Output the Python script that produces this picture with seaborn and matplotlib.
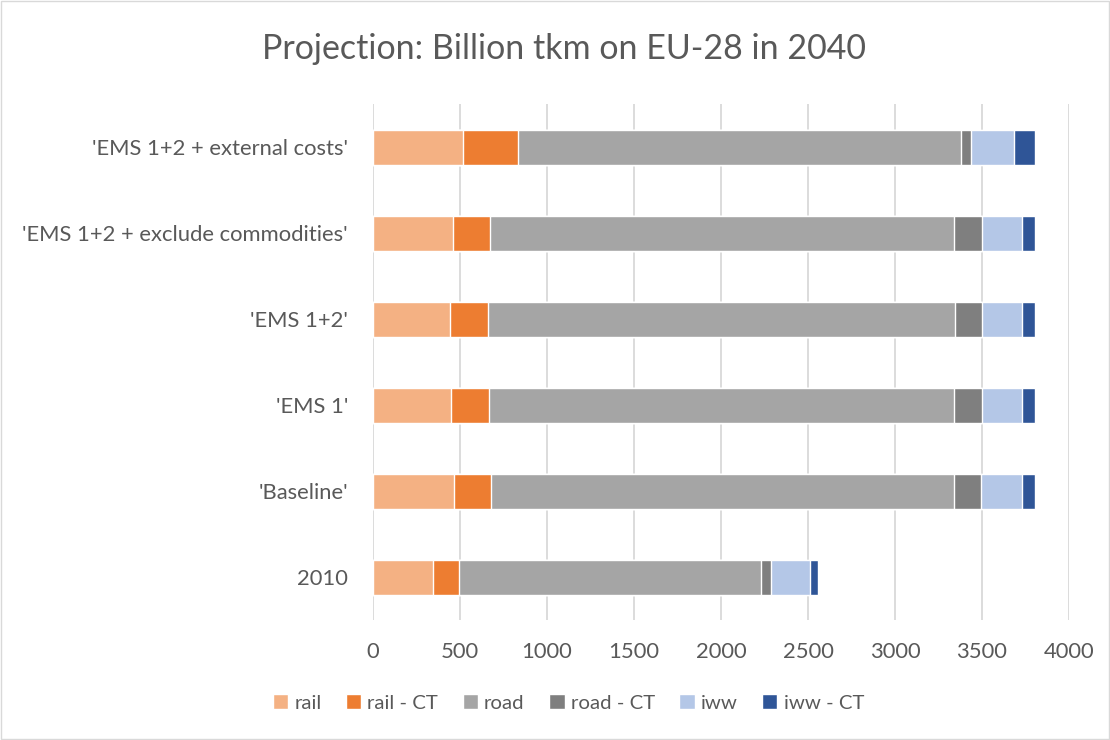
import pandas as pd
import matplotlib.pyplot as plt
import seaborn as sns
from matplotlib.patches import Patch, Rectangle

# 数据
scenarios = ["'EMS 1+2 + external costs'", "'EMS 1+2 + exclude commodities'",
             "'EMS 1+2'", "'EMS 1'", "'Baseline'", "2010"]
modes = ['rail', 'rail - CT', 'road', 'road - CT', 'iww', 'iww - CT']
rail = [519, 458, 445, 450, 464, 347]
rail_ct = [315, 215, 217, 218, 217, 146]
road = [2543, 2667, 2686, 2672, 2659, 1740]
road_ct = [61, 162, 154, 162, 157, 56]
iww = [249, 228, 228, 228, 233, 225]
iww_ct = [120, 77, 77, 77, 77, 42]
colors = ['#F4B183', '#ED7D31', '#A5A5A5', '#7F7F7F', '#B4C7E7', '#2F5597']

sns.set_style('white')
plt.rcParams['font.family'] = ['Lato', 'DejaVu Sans']
text_color = '#595959'

df = pd.DataFrame({'scenario': scenarios, 'rail': rail, 'rail - CT': rail_ct,
                   'road': road, 'road - CT': road_ct, 'iww': iww, 'iww - CT': iww_ct})
cum = df[modes].cumsum(axis=1)
cum['scenario'] = df['scenario']

fig = plt.figure(figsize=(11.1, 7.4), dpi=100)
ax = fig.add_axes([0.336, 0.162, 0.627, 0.697])

# 堆叠：从总和开始往回画
for mode, color in reversed(list(zip(modes, colors))):
    sns.barplot(data=cum, x=mode, y='scenario', orient='h', color=color,
                width=0.41, saturation=1, ax=ax, zorder=3)

ax.set_xlim(0, 4000)
ax.set_xticks(range(0, 4001, 500))
ax.grid(axis='x', color='#D9D9D9', linewidth=1.3, zorder=0)
ax.set_axisbelow(True)
for s in ax.spines.values():
    s.set_visible(False)
ax.tick_params(axis='both', length=0, labelsize=15.8, labelcolor=text_color)
ax.tick_params(axis='x', pad=16)
ax.tick_params(axis='y', pad=18)
ax.set_xlabel('')
ax.set_ylabel('')

fig.text(0.508, 0.934, 'Projection: Billion tkm on EU-28 in 2040', ha='center', va='center',
         fontsize=24.5, color=text_color)

handles = [Patch(facecolor=c, label=m) for m, c in zip(modes, colors)]
fig.legend(handles=handles, loc='center', bbox_to_anchor=(0.512, 0.05), ncol=6,
           frameon=False, fontsize=14.7, labelcolor=text_color,
           handlelength=0.75, handleheight=0.75, handletextpad=0.3, columnspacing=1.2)

# 图表外框
fig.patches.append(Rectangle((0.001, 0.001), 0.998, 0.998, transform=fig.transFigure,
                             fill=False, edgecolor='#D9D9D9', linewidth=1))

plt.savefig('out.png', dpi=100)
